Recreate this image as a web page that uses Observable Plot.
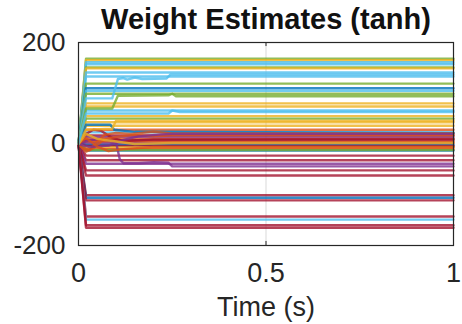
<!DOCTYPE html>
<html>
<head>
<meta charset="utf-8">
<script src="https://cdn.jsdelivr.net/npm/d3@7"></script>
<script src="https://cdn.jsdelivr.net/npm/@observablehq/plot@0.6"></script>
<style>
  html, body { margin: 0; padding: 0; background: white; }
</style>
</head>
<body>
<div id="chart"></div>
<script>
// MATLAB default colour order
const palette = {
  B: "#0072BD", O: "#D95319", Y: "#EDB120", P: "#7E2F8E",
  G: "#77AC30", C: "#4DBEEE", R: "#A2142F"
};

// Weights that jump straight to their final value
const stepTimes = [0, 0.02, 1];
const stepFinals = [168, 165, 161, 157, 151, 149, 141, 133, 119, 110, 105, 99, 80, 74, 66,
  55, 50, 43, 36, 28, 23, 17, 14, 10, 7, 4, 1, -2, -4, -7, -10, -13, -12, -23, -32,
  -39, -52, -62, -101, -106, -111, -143, -149, -160, -165];
const stepColors = ["G", "Y", "C", "C", "G", "Y", "C", "C", "G", "B", "C", "G", "Y", "Y", "C",
  "Y", "G", "Y", "Y", "O", "C", "R", "P", "O", "R", "O", "P", "B", "R", "Y", "O", "B", "G", "R", "R",
  "P", "R", "R", "R", "B", "R", "R", "C", "R", "R"];

// Weights with a slower transient (time, value)
const slowTimes = [
  [0, 0.02, 0.09, 0.105, 0.12, 0.13, 0.15, 0.17, 0.235, 0.245, 1],
  [0, 0.02, 0.09, 0.105, 0.24, 0.25, 0.26, 1],
  [0, 0.02, 0.085, 0.095, 0.15, 1],
  [0, 0.02, 0.04, 0.06, 0.09, 0.12, 0.2, 1],
  [0, 0.03, 0.06, 0.1, 0.11, 0.12, 0.16, 0.2, 0.24, 0.25, 1],
  [0, 0.01, 0.03, 0.05, 0.07, 0.1, 0.14, 0.2, 0.25, 1],
  [0, 0.02, 0.04, 0.07, 0.1, 0.15, 0.2, 0.25, 1],
  [0, 0.02, 0.09, 0.1, 1],
  [0, 0.03, 0.08, 0.12, 0.16, 0.22, 0.25, 1],
  [0, 0.02, 0.05, 0.08, 0.12, 0.2, 1],
  [0, 0.02, 0.05, 0.1, 0.15, 0.25, 1],
  [0, 0.02, 0.24, 0.25, 0.27, 1]
];
const slowValues = [
  [0, 90, 90, 128, 130, 127, 131, 128, 129, 137, 137],
  [0, 70, 70, 95, 96, 99, 94, 94],
  [0, 38, 38, 28, 24, 22],
  [0, 20, 28, 26, 12, 6, 9, 10],
  [0, 8, 10, 4, -30, -38, -38, -36, -37, -44, -44],
  [0, -8, -12, 5, 18, 22, 20, 24, 21, 21],
  [0, -15, -8, 10, 14, 18, 15, 17, 17],
  [0, 28, 30, 46, 46],
  [0, -6, -3, 8, 15, 19, 20, 20],
  [0, 12, -5, -14, -10, -6, -6],
  [0, 20, 10, 5, 0, 2, 2],
  [0, 60, 60, 66, 63, 63]
];
const slowColors = ["C", "G", "B", "R", "P", "O", "O", "Y", "P", "O", "Y", "C"];

const xTicks = [0, 0.5, 1];
const yTicks = [-200, 0, 200];

const rows = [];
stepFinals.forEach((v, i) => {
  const vals = [0, v, v];
  stepTimes.forEach((t, j) => rows.push({id: "s" + i, t, w: vals[j], color: palette[stepColors[i]]}));
});
slowTimes.forEach((ts, i) => {
  ts.forEach((t, j) => rows.push({id: "d" + i, t, w: slowValues[i][j], color: palette[slowColors[i]]}));
});

const chart = Plot.plot({
  width: 462,
  height: 324,
  marginLeft: 78,
  marginRight: 9,
  marginTop: 42,
  marginBottom: 79,
  x: {domain: [0, 1]},
  y: {domain: [-200, 200]},
  color: {type: "identity"},
  style: {fontFamily: "'Liberation Sans', Arial, Helvetica, sans-serif", background: "white", color: "#262626"},
  marks: [
    Plot.ruleX([0.5], {stroke: "#cfcfcf", strokeWidth: 0.8}),
    Plot.line(rows, {x: "t", y: "w", z: "id", stroke: "color", strokeWidth: 2.4, strokeOpacity: 0.8}),
    Plot.frame({stroke: "#262626", strokeWidth: 1.2}),
    Plot.ruleX(xTicks, {y1: -200, y2: -192, stroke: "#262626"}),
    Plot.ruleX(xTicks, {y1: 200, y2: 192, stroke: "#262626"}),
    Plot.axisX(xTicks, {tickSize: 0, tickPadding: 17, fontSize: 27, tickFormat: d => String(d), label: null, fill: "#262626"}),
    Plot.axisY(yTicks, {tickSize: 0, tickPadding: 13, fontSize: 26, tickFormat: d => String(d), label: null, fill: "#262626"}),
    Plot.text(["Weight Estimates (tanh)"], {frameAnchor: "top", lineAnchor: "middle", dy: -23, fontSize: 29, fontWeight: "bold", fill: "#111"}),
    Plot.text(["Time (s)"], {frameAnchor: "bottom", lineAnchor: "middle", dy: 62, fontSize: 27, fill: "#262626"})
  ]
});
document.getElementById("chart").appendChild(chart);
</script>
</body>
</html>
